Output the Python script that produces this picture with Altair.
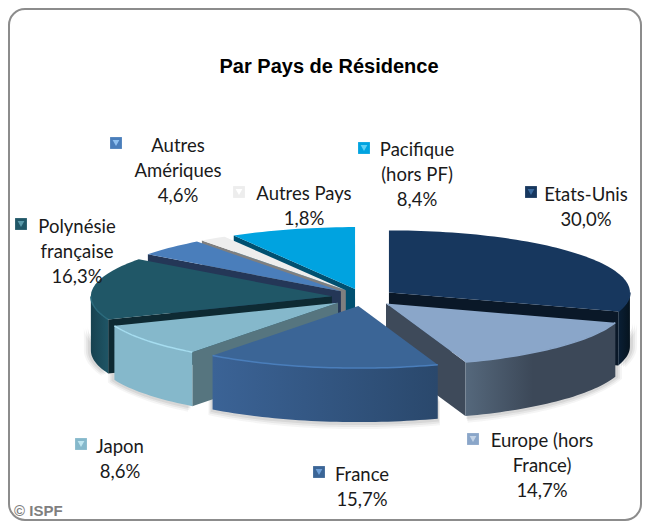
import math
import altair as alt
import pandas as pd

# ---- data
categories = ["Etats-Unis", "Europe (hors France)", "France", "Japon",
              "Polynésie française", "Autres Amériques", "Autres Pays", "Pacifique (hors PF)"]
shares = [30.0, 14.7, 15.7, 8.6, 16.3, 4.6, 1.8, 8.4]
top_colors = ["#17375E", "#8AA6C9", "#3B6596", "#85B8CB", "#205767", "#4A7EBB", "#EDEDED", "#00A3E0"]
cut_colors = ["#0A1828", "#3E4A5A", "#56757F", "#56757F", "#0E2A33", "#243757", "#7F7F7F", "#005070"]
wall_left = ["#0A1F35", "#55687C", "#3B6396", "#85B8CB", "#1F5566", "#2F4F80", "#BBBBBB", "#006A90"]
wall_right = ["#06141F", "#3C4858", "#2A486C", "#85B8CB", "#174250", "#2F4F80", "#BBBBBB", "#006A90"]
rim_colors = ["#17375E", "#8AA6C9", "#4A7EBB", "#A6DDF0", "#2A6A7C", "#4A7EBB", "#EDEDED", "#00A3E0"]
key_light = ["#3A6A9E", "#C3D3E6", "#6FA0D8", "#BFE6F0", "#5A9AAA", "#8FC0F0", "#FFFFFF", "#60D0F5"]
label_lines = [["Etats-Unis", "30,0%"], ["Europe (hors", "France)", "14,7%"], ["France", "15,7%"],
               ["Japon", "8,6%"], ["Polynésie", "française", "16,3%"], ["Autres", "Amériques", "4,6%"],
               ["Autres Pays", "1,8%"], ["Pacifique", "(hors PF)", "8,4%"]]

# ---- layout (page pixels)
RX, RY, H = 241.0, 62.0, 54.0
CX, CY = 363.3, 297.5
EX, EY = 31.7, 8.7
label_x = [586, 542, 362, 120, 77, 178, 304, 417]
label_y = [201, 447, 481, 453, 233, 152, 200, 156]
key_x = [531, 473, 319, 81, 21, 116, 239, 364]
key_y = [192, 439, 472, 444, 224, 143, 192, 148]
LINE = 25

X = alt.X("x:Q", scale=alt.Scale(domain=[8, 642], nice=False, zero=False), axis=None)
Y = alt.Y("y:Q", scale=alt.Scale(domain=[521, 8], nice=False, zero=False), axis=None)


def pt(ax, ay, th, k=1.0, dy=0.0, extra=0.0):
    r = math.radians(th)
    return (ax + (RX * k + extra) * math.sin(r), ay - (RY * k + extra) * math.cos(r) + dy)


def sweep(a, b, step=1.5):
    n = max(2, int(abs(b - a) / step) + 1)
    return [a + (b - a) * i / (n - 1) for i in range(n)]


def frame(points):
    return pd.DataFrame({"x": [p[0] for p in points], "y": [p[1] for p in points], "i": range(len(points))})


def poly(points, fill, opacity=1.0):
    return alt.Chart(frame(points)).mark_line(
        fill=fill, stroke="transparent", strokeWidth=0, fillOpacity=opacity
    ).encode(x=X, y=Y, order="i:Q")


def line(points, color, width=1.5):
    return alt.Chart(frame(points)).mark_line(stroke=color, strokeWidth=width).encode(x=X, y=Y, order="i:Q")


def hgrad(a, b, mid=1.0):
    return alt.LinearGradient(gradient="linear", x1=0, x2=1, y1=0, y2=0,
                              stops=[alt.GradientStop(offset=0, color=a),
                                     alt.GradientStop(offset=mid, color=b),
                                     alt.GradientStop(offset=1, color=b)])


# slice angles
angles = []
acc = 0.0
total = sum(shares)
for s in shares:
    a = acc / total * 360
    acc += s
    angles.append((a, acc / total * 360))
apex = []
for a, b in angles:
    m = math.radians((a + b) / 2)
    apex.append((CX + EX * math.sin(m), CY - EY * math.cos(m)))

layers = []
# card
card = pd.DataFrame({"x": [9], "x2": [641], "y": [9], "y2": [520]})
layers.append(alt.Chart(card).mark_rect(fill="white", stroke="#8C8C8C", strokeWidth=2, cornerRadius=16)
              .encode(x=X, x2="x2:Q", y=Y, y2="y2:Q"))

# soft shadow behind the walls
for idx, (a, b) in enumerate(angles):
    lo, hi = max(a, 90), min(b, 270)
    if lo >= hi:
        continue
    ax, ay = apex[idx]
    for extra, op in [(7, 0.05), (5, 0.07), (3, 0.09)]:
        t = [pt(ax, ay, th, extra=extra, dy=H - 24) for th in sweep(lo, hi)]
        bot = [pt(ax, ay, th, extra=extra, dy=H) for th in sweep(hi, lo)]
        layers.append(poly(t + bot, "#333333", op))

# painter's order, back to front
for idx in [7, 6, 5, 4, 0, 3, 1, 2]:
    a, b = angles[idx]
    ax, ay = apex[idx]
    # visible cut walls
    if math.sin(math.radians(a)) < -1e-6:
        tip = pt(ax, ay, a)
        layers.append(poly([(ax, ay), tip, (tip[0], tip[1] + H), (ax, ay + H)], cut_colors[idx]))
    if math.sin(math.radians(b)) > 1e-6:
        tip = pt(ax, ay, b)
        layers.append(poly([(ax, ay), tip, (tip[0], tip[1] + H), (ax, ay + H)], cut_colors[idx]))
    # outer wall
    lo, hi = max(a, 90), min(b, 270)
    if lo < hi:
        t = [pt(ax, ay, th) for th in sweep(lo, hi)]
        bot = [pt(ax, ay, th, dy=H) for th in sweep(hi, lo)]
        if idx == 3:
            g = wall_left[idx]
        elif idx == 4:
            g = hgrad(wall_right[idx], wall_left[idx])
        elif idx == 1:
            g = hgrad(wall_left[idx], wall_right[idx], 0.45)
        else:
            g = hgrad(wall_left[idx], wall_right[idx])
        layers.append(poly(t + bot, g))
    # top face
    layers.append(poly([(ax, ay)] + [pt(ax, ay, th) for th in sweep(a, b)], top_colors[idx]))
    # rim
    if lo < hi:
        layers.append(line([pt(ax, ay, th) for th in sweep(lo, hi)], rim_colors[idx]))

# legend keys
keys = pd.DataFrame({"x": key_x, "y": key_y, "c": top_colors, "l": key_light, "name": categories})
layers.append(alt.Chart(keys).mark_square(size=140, opacity=1).encode(
    x=X, y=Y, color=alt.Color("c:N", scale=None), detail="name:N"))
layers.append(alt.Chart(keys).mark_point(shape="triangle-down", filled=True, size=45, opacity=1).encode(
    x=X, y=Y, color=alt.Color("l:N", scale=None), detail="name:N"))

# labels
rows = []
for lx, ly, lines in zip(label_x, label_y, label_lines):
    for n, t in enumerate(lines):
        rows.append({"x": lx, "y": ly + n * LINE, "t": t})
layers.append(alt.Chart(pd.DataFrame(rows)).mark_text(
    font="Lato", fontSize=18.5, color="#1A1A1A", align="center", baseline="alphabetic"
).encode(x=X, y=Y, text="t:N"))

# title and credit
title_df = pd.DataFrame({"x": [329], "y": [73], "t": ["Par Pays de Résidence"]})
layers.append(alt.Chart(title_df).mark_text(
    font="Liberation Sans", fontSize=20, fontWeight="bold", color="#000000", align="center", baseline="alphabetic"
).encode(x=X, y=Y, text="t:N"))
credit_df = pd.DataFrame({"x": [14], "y": [516], "t": ["© ISPF"]})
layers.append(alt.Chart(credit_df).mark_text(
    font="Liberation Sans", fontSize=15, fontWeight="bold", color="#7F7F7F", align="left", baseline="alphabetic"
).encode(x=X, y=Y, text="t:N"))

chart = alt.layer(*layers).properties(
    width=634, height=513, padding=0, autosize=alt.AutoSizeParams(type="none"), background="white"
).configure_view(stroke=None)

chart.save("out.html", embed_options={"renderer": "svg", "actions": False})
